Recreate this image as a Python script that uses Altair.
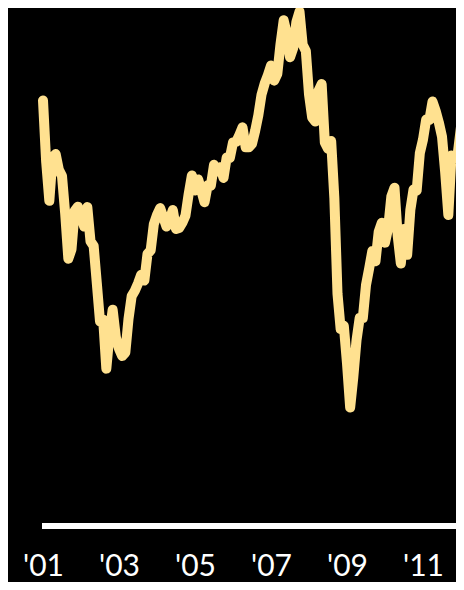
import altair as alt
import pandas as pd

# Monthly closing values (index level), Jan 2001 .. Feb 2012
y2001 = [1366, 1240, 1160, 1249, 1256, 1224, 1211, 1134, 1041, 1060, 1139, 1148]
y2002 = [1130, 1107, 1147, 1077, 1067, 990, 912, 916, 815, 886, 936, 880]
y2003 = [856, 841, 848, 917, 964, 975, 990, 1008, 996, 1051, 1058, 1112]
y2004 = [1131, 1145, 1126, 1107, 1121, 1141, 1102, 1104, 1115, 1130, 1174, 1212]
y2005 = [1181, 1204, 1181, 1157, 1192, 1191, 1234, 1220, 1229, 1207, 1249, 1248]
y2006 = [1280, 1281, 1295, 1311, 1270, 1270, 1277, 1304, 1336, 1378, 1401, 1418]
y2007 = [1438, 1407, 1421, 1482, 1531, 1503, 1455, 1474, 1527, 1549, 1481, 1468]
y2008 = [1379, 1331, 1323, 1386, 1400, 1280, 1267, 1283, 1166, 969, 896, 903]
y2009 = [826, 735, 798, 873, 919, 919, 987, 1021, 1057, 1036, 1096, 1115]
y2010 = [1074, 1104, 1169, 1187, 1089, 1031, 1102, 1049, 1141, 1183, 1181, 1258]
y2011 = [1286, 1327, 1326, 1364, 1345, 1321, 1292, 1219, 1131, 1253, 1247, 1258]
y2012 = [1312, 1366]

series = [y2001, y2002, y2003, y2004, y2005, y2006, y2007, y2008, y2009, y2010, y2011, y2012]
start_year = 2001
tick_years = [2001, 2003, 2005, 2007, 2009, 2011]

rows = []
for i, vals in enumerate(series):
    for m, v in enumerate(vals):
        rows.append({"t": start_year + i + m / 12.0, "v": v})
df = pd.DataFrame(rows)

x_domain = [2000.0789, 2011.8684]
y_domain = [483.3, 1556.3]
baseline_value = 491.5
baseline_start = 2000.9737

xs = alt.Scale(domain=x_domain, nice=False, zero=False)
ys = alt.Scale(domain=y_domain, nice=False, zero=False)

x_axis = alt.Axis(
    values=tick_years, title=None, domain=False, ticks=False, grid=False,
    labelExpr="\"'\" + substring(toString(datum.value), 2, 4)",
    labelFont="Lato", labelFontSize=30, labelColor="white",
    labelPadding=21, labelFlush=False, labelOverlap=False,
)

line = alt.Chart(df).mark_line(
    color="#FFE190", strokeWidth=10, strokeCap="round", strokeJoin="round", clip=True
).encode(
    x=alt.X("t:Q", scale=xs, axis=x_axis),
    y=alt.Y("v:Q", scale=ys, axis=None),
)

base_df = pd.DataFrame({"a": [baseline_start], "b": [x_domain[1] + 1], "v": [baseline_value]})
rule = alt.Chart(base_df).mark_rule(color="white", strokeWidth=6, clip=True).encode(
    x=alt.X("a:Q", scale=xs, axis=x_axis),
    x2="b:Q",
    y=alt.Y("v:Q", scale=ys, axis=None),
)

chart = alt.layer(line, rule).properties(
    width=448, height=522,
    autosize=alt.AutoSizeParams(type="none"),
    padding={"left": 0, "top": 0, "right": 0, "bottom": 52},
    background="black",
).configure_view(strokeWidth=0)

chart.save("out.html", embed_options={"renderer": "svg", "actions": False})
